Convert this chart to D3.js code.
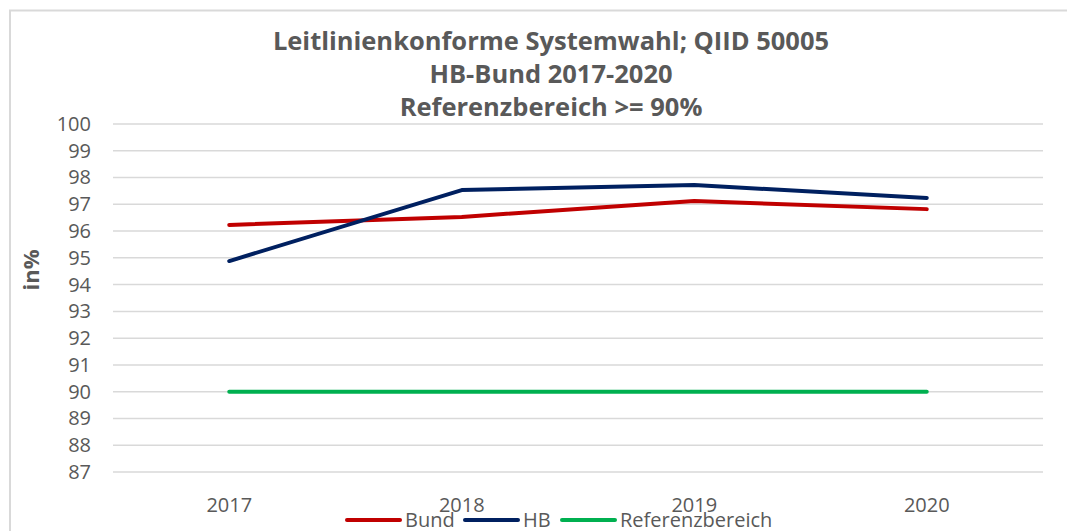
<!DOCTYPE html>
<html>
<head>
<meta charset="utf-8">
<script src="https://d3js.org/d3.v7.min.js"></script>
<style>
body { margin: 0; background: #fff; }
text { font-family: "Open Sans", sans-serif; fill: #595959; }
.title { font-weight: bold; font-size: 25.5px; }
.tick text { font-size: 20px; }
</style>
</head>
<body>
<div id="chart"></div>
<script>
var years = ["2017", "2018", "2019", "2020"];
var bund = [96.23, 96.53, 97.12, 96.82];
var hb = [94.88, 97.53, 97.72, 97.24];
var referenz = [90, 90, 90, 90];
var yTicks = [87, 88, 89, 90, 91, 92, 93, 94, 95, 96, 97, 98, 99, 100];
var titleLines = ["Leitlinienkonforme Systemwahl; QIID 50005", "HB-Bund 2017-2020", "Referenzbereich >= 90%"];

var series = [
  { name: "Bund", values: bund, color: "#C00000" },
  { name: "HB", values: hb, color: "#002060" },
  { name: "Referenzbereich", values: referenz, color: "#00B050" }
];

var width = 1067, height = 531;
var svg = d3.select("#chart").append("svg")
  .attr("width", width).attr("height", height);

// chart frame
svg.append("path")
  .attr("d", "M10,531 V10.5 H1067")
  .attr("fill", "none")
  .attr("stroke", "#d9d9d9")
  .attr("stroke-width", 2);

var x = d3.scaleBand().domain(years).range([113, 1043]);
var y = d3.scaleLinear().domain([87, 100]).range([472, 124]);

// gridlines
svg.append("g")
  .selectAll("line")
  .data(yTicks)
  .enter().append("line")
  .attr("x1", 113).attr("x2", 1043)
  .attr("y1", function(d) { return y(d); })
  .attr("y2", function(d) { return y(d); })
  .attr("stroke", "#d9d9d9")
  .attr("stroke-width", 1.5);

var yAxis = svg.append("g")
  .attr("transform", "translate(113,0)")
  .call(d3.axisLeft(y).tickValues(yTicks).tickSize(0).tickPadding(22));
yAxis.select(".domain").remove();

var xAxis = svg.append("g")
  .attr("transform", "translate(0,472)")
  .call(d3.axisBottom(x).tickSize(0).tickPadding(26));
xAxis.select(".domain").remove();

var line = d3.line()
  .x(function(d, i) { return x(years[i]) + x.bandwidth() / 2; })
  .y(function(d) { return y(d); });

svg.append("g")
  .selectAll("path")
  .data(series)
  .enter().append("path")
  .attr("d", function(d) { return line(d.values); })
  .attr("fill", "none")
  .attr("stroke", function(d) { return d.color; })
  .attr("stroke-width", 4)
  .attr("stroke-linecap", "round")
  .attr("stroke-linejoin", "round");

// title
svg.append("g")
  .selectAll("text")
  .data(titleLines)
  .enter().append("text")
  .attr("class", "title")
  .attr("x", 551)
  .attr("y", function(d, i) { return 50 + i * 33; })
  .attr("text-anchor", "middle")
  .text(function(d) { return d; });

// y axis title
svg.append("text")
  .attr("transform", "translate(39,270) rotate(-90)")
  .attr("text-anchor", "middle")
  .style("font-weight", "bold")
  .style("font-size", "22px")
  .text("in%");

// legend
var legendX = [347, 465, 562];
var legend = svg.append("g")
  .selectAll("g")
  .data(series)
  .enter().append("g")
  .attr("transform", function(d, i) { return "translate(" + legendX[i] + ",520)"; });
legend.append("line")
  .attr("x1", 0).attr("x2", 53)
  .attr("stroke", function(d) { return d.color; })
  .attr("stroke-width", 4)
  .attr("stroke-linecap", "round");
legend.append("text")
  .attr("x", 58).attr("y", 7)
  .style("font-size", "20px")
  .text(function(d) { return d.name; });
</script>
</body>
</html>
